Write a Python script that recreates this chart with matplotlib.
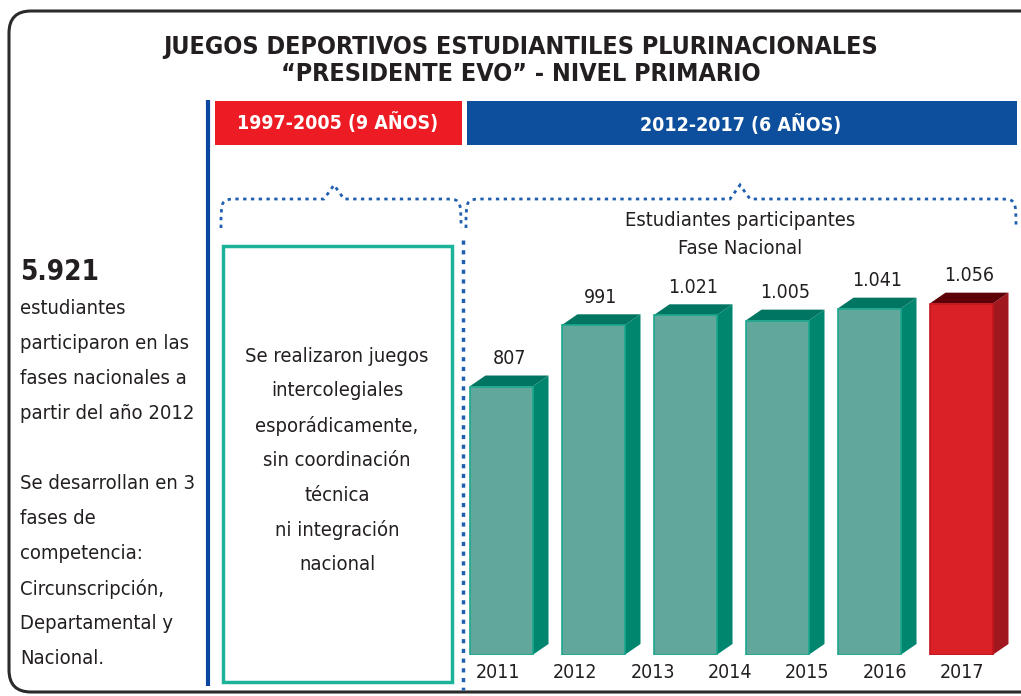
import numpy as np
import matplotlib.pyplot as plt
from matplotlib.patches import Rectangle, Polygon, FancyBboxPatch
from matplotlib.path import Path
from matplotlib.patches import PathPatch

# datos
valores = [807, 991, 1021, 1005, 1041, 1056]
etiquetas_valor = ['807', '991', '1.021', '1.005', '1.041', '1.056']
anios = ['2011', '2012', '2013', '2014', '2015', '2016', '2017']
total = '5.921'

plt.rcParams['font.family'] = ['DejaVu Sans']
plt.rcParams['font.stretch'] = 'condensed'

W, H = 1021, 696
fig = plt.figure(figsize=(W / 100, H / 100), dpi=100)

# fondo en coordenadas de pixel
bg = fig.add_axes([0, 0, 1, 1])
bg.set_xlim(0, W)
bg.set_ylim(H, 0)
bg.axis('off')

txt = '#231f20'
azul = '#0d4f9c'
rojo = '#ed1c24'

# marco redondeado
bg.add_patch(FancyBboxPatch((9, 11), W + 20, 681,
                            boxstyle='round,pad=0,rounding_size=22',
                            fc='none', ec='#2b2b2b', lw=2.2))

# titulo
bg.text(521, 47, 'JUEGOS DEPORTIVOS ESTUDIANTILES PLURINACIONALES',
        ha='center', va='center', fontsize=18, fontweight='bold', color=txt)
bg.text(521, 74, '\u201cPRESIDENTE EVO\u201d - NIVEL PRIMARIO',
        ha='center', va='center', fontsize=18, fontweight='bold', color=txt)

# cabeceras
bg.add_patch(Rectangle((215, 101), 247, 44, fc=rojo, ec='none'))
bg.add_patch(Rectangle((467, 101), 550, 44, fc=azul, ec='none'))
bg.text(338, 123, '1997-2005 (9 AÑOS)', ha='center', va='center',
        fontsize=14, fontweight='bold', color='white')
bg.text(741, 125, '2012-2017 (6 AÑOS)', ha='center', va='center',
        fontsize=14, fontweight='bold', color='white')

# linea vertical azul
bg.plot([208, 208], [100, 686], color='#0b47a0', lw=3, solid_capstyle='butt')


# llaves punteadas
def llave(x0, x1, xp, y_top=199, y_peak=185, y_end=228):
    r = 18
    verts = [(x0, y_end), (x0, y_top), (x0, y_top), (x0 + r, y_top),
             (xp - 10, y_top), (xp, y_peak), (xp + 10, y_top),
             (x1 - r, y_top), (x1, y_top), (x1, y_top), (x1, y_end)]
    codes = [Path.MOVETO, Path.CURVE4, Path.CURVE4, Path.CURVE4,
             Path.LINETO, Path.LINETO, Path.LINETO,
             Path.LINETO, Path.CURVE4, Path.CURVE4, Path.CURVE4]
    bg.add_patch(PathPatch(Path(verts, codes), fc='none', ec='#1f5fae',
                           lw=2, ls=(0, (1.2, 1.6))))


llave(221, 461, 334)
llave(466, 1016, 740)

# linea punteada vertical
bg.plot([463, 463], [240, 690], color='#1f5fae', lw=2.5, ls=(0, (1.2, 1.6)))

# caja verde
bg.add_patch(Rectangle((223, 246), 229, 436, fc='none', ec='#1db39b', lw=2.5))
caja = ['Se realizaron juegos', 'intercolegiales', 'esporádicamente,',
        'sin coordinación', 'técnica', 'ni integración', 'nacional']
for i, t in enumerate(caja):
    bg.text(337, 356 + i * 34.8, t, ha='center', va='center', fontsize=14.5, color=txt)

# texto izquierda
bg.text(20, 272, total, ha='left', va='center', fontsize=20, fontweight='bold', color=txt)
izq = ['estudiantes', 'participaron en las', 'fases nacionales a', 'partir del año 2012',
       '', 'Se desarrollan en 3', 'fases de', 'competencia:', 'Circunscripción,',
       'Departamental y', 'Nacional.']
for i, t in enumerate(izq):
    bg.text(20, 308 + i * 35.1, t, ha='left', va='center', fontsize=14.5, color=txt)

# subtitulo del grafico
bg.text(740, 220, 'Estudiantes participantes', ha='center', va='center',
        fontsize=14.5, color=txt)
bg.text(740, 248, 'Fase Nacional', ha='center', va='center', fontsize=14.5, color=txt)

# ejes de barras (0 en y=655 px, 0.3327 px por estudiante, 92 px por barra)
px_u = 0.3327
x_l, x_r, y_b, y_t = 460, 1016, 655, 270
ax = fig.add_axes([x_l / W, 1 - y_b / H, (x_r - x_l) / W, (y_b - y_t) / H])
ax.set_xlim((x_l - 501) / 92, (x_r - 501) / 92)
ax.set_ylim(0, (y_b - y_t) / px_u)
ax.axis('off')

ancho = 63 / 92
dx = 16 / 92
dy = 11 / px_u
colores = [('#62a79b', '#00856f', '#007662', '#1ba88d')] * 5 + \
          [('#da2128', '#a0181e', '#5e0008', '#c4161c')]
xs = np.arange(len(valores))
ax.bar(xs, valores, width=ancho, color=[c[0] for c in colores],
       edgecolor=[c[3] for c in colores], linewidth=1.2, zorder=3)
for x, v, c in zip(xs, valores, colores):
    xr = x + ancho / 2
    xl = x - ancho / 2
    ax.add_patch(Polygon([(xr, 0), (xr + dx, dy), (xr + dx, v + dy), (xr, v)],
                         closed=True, fc=c[1], ec='none', zorder=2))
    ax.add_patch(Polygon([(xl, v), (xl + dx, v + dy), (xr + dx, v + dy), (xr, v)],
                         closed=True, fc=c[2], ec='none', zorder=2))
for x, v, t in zip(xs, valores, etiquetas_valor):
    ax.text(x + dx / 2, v + dy + 22, t, ha='center', va='bottom', fontsize=14, color=txt)

# años
for xp, t in zip(np.linspace(498, 962, len(anios)), anios):
    bg.text(xp, 673, t, ha='center', va='center', fontsize=14, color=txt)

fig.savefig('out.png', dpi=100)
